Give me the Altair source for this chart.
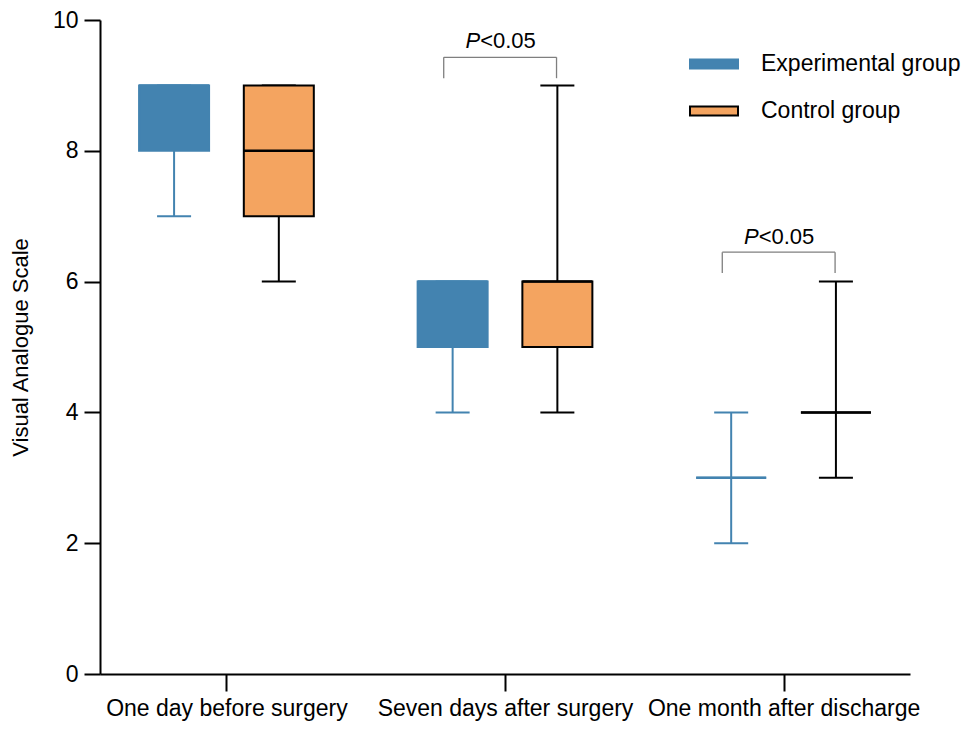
import json
import altair as alt
import pandas as pd

categories = ["One day before surgery", "Seven days after surgery", "One month after discharge"]
groups = ["Experimental group", "Control group"]

exp_min = [7, 4, 2]
exp_q1 = [8, 5, 3]
exp_median = [9, 6, 3]
exp_q3 = [9, 6, 3]
exp_max = [9, 6, 4]

ctrl_min = [6, 4, 3]
ctrl_q1 = [7, 5, 4]
ctrl_median = [8, 6, 4]
ctrl_q3 = [9, 6, 4]
ctrl_max = [9, 9, 6]

sig_idx = [1, 2]
sig_p = ["P", "P"]
sig_rest = ["<0.05", "<0.05"]
sig_top = [9.43, 6.45]
sig_leg = [9.11, 6.13]
sig_text = [9.57, 6.57]

BLUE = "#4383B0"
ORANGE = "#F4A460"
FONT = "Liberation Sans"

rows = []
for i, c in enumerate(categories):
    rows.append(dict(cat=c, idx=i, group=groups[0], lo=exp_min[i], q1=exp_q1[i],
                     med=exp_median[i], q3=exp_q3[i], hi=exp_max[i]))
    rows.append(dict(cat=c, idx=i, group=groups[1], lo=ctrl_min[i], q1=ctrl_q1[i],
                     med=ctrl_median[i], q3=ctrl_q3[i], hi=ctrl_max[i]))
df = pd.DataFrame(rows)

sig = pd.DataFrame(dict(idx=sig_idx, p=sig_p, rest=sig_rest, top=sig_top,
                        leg=sig_leg, ty=sig_text))

label_expr = json.dumps(categories) + "[datum.value]"
x_scale = alt.Scale(domain=[-0.436, 2.436], nice=False, zero=False)
y_scale = alt.Scale(domain=[0, 10], nice=False)

X = alt.X("pos:Q", scale=x_scale, title=None,
          axis=alt.Axis(values=[0, 1, 2], labelExpr=label_expr, tickSize=17,
                        labelPadding=6, labelFontSize=23, labelOverlap=False,
                        labelBound=False, labelFlush=False, labelLimit=0, grid=False))
Y_axis = alt.Axis(values=[0, 2, 4, 6, 8, 10], format="d", tickSize=16, labelPadding=6,
                  labelFontSize=23, title="Visual Analogue Scale", titleFontSize=22,
                  titleFontWeight="normal", titleX=-80, titleY=327,
                  titleBaseline="middle", titleAlign="center", titleAngle=270,
                  titleLimit=0, grid=False)

leg = alt.Legend(title=None, orient="none", legendX=589, legendY=19,
                 symbolType="M-1,-0.19H1V0.19H-1Z", symbolSize=2304,
                 symbolStrokeWidth=2, labelFontSize=23, labelFont=FONT,
                 labelColor="black", labelOffset=22, rowPadding=10, padding=0,
                 labelLimit=0)
fill_enc = alt.Fill("group:N", scale=alt.Scale(domain=groups, range=[BLUE, ORANGE]), legend=leg)
stroke_enc = alt.Stroke("group:N", scale=alt.Scale(domain=groups, range=[BLUE, "black"]), legend=leg)

base = alt.Chart(df).transform_calculate(
    pos="datum.idx + (datum.group == 'Experimental group' ? -0.188 : 0.188)"
)

whisk_lo = base.mark_rule(strokeWidth=2).encode(
    x=X, y=alt.Y("lo:Q", scale=y_scale, axis=Y_axis), y2="q1:Q", stroke=stroke_enc)
whisk_hi = base.mark_rule(strokeWidth=2).encode(
    x=X, y=alt.Y("q3:Q", scale=y_scale, axis=Y_axis), y2="hi:Q", stroke=stroke_enc)
cap_lo = base.mark_rule(strokeWidth=2, xOffset=-17, x2Offset=17).encode(
    x=X, x2="pos:Q", y=alt.Y("lo:Q", scale=y_scale, axis=Y_axis), stroke=stroke_enc)
cap_hi = base.mark_rule(strokeWidth=2, xOffset=-17, x2Offset=17).encode(
    x=X, x2="pos:Q", y=alt.Y("hi:Q", scale=y_scale, axis=Y_axis), stroke=stroke_enc)
boxes = base.mark_bar(size=70, strokeWidth=2).encode(
    x=X, y=alt.Y("q1:Q", scale=y_scale, axis=Y_axis), y2="q3:Q",
    fill=fill_enc, stroke=stroke_enc)
medians = base.mark_rule(strokeWidth=2.5, xOffset=-35, x2Offset=35).encode(
    x=X, x2="pos:Q", y=alt.Y("med:Q", scale=y_scale, axis=Y_axis), stroke=stroke_enc)

sbase = alt.Chart(sig).transform_calculate(
    left="datum.idx - 0.22", right="datum.idx + 0.185", mid="datum.idx - 0.0175")
br_top = sbase.mark_rule(color="#7f7f7f", strokeWidth=1.3).encode(
    x=alt.X("left:Q", scale=x_scale), x2="right:Q", y=alt.Y("top:Q", scale=y_scale))
br_l = sbase.mark_rule(color="#7f7f7f", strokeWidth=1.3).encode(
    x=alt.X("left:Q", scale=x_scale), y=alt.Y("leg:Q", scale=y_scale), y2="top:Q")
br_r = sbase.mark_rule(color="#7f7f7f", strokeWidth=1.3).encode(
    x=alt.X("right:Q", scale=x_scale), y=alt.Y("leg:Q", scale=y_scale), y2="top:Q")
txt_p = sbase.mark_text(align="right", baseline="alphabetic", font=FONT, fontSize=22,
                        fontStyle="italic", color="black", dx=-20).encode(
    x=alt.X("mid:Q", scale=x_scale), y=alt.Y("ty:Q", scale=y_scale), text="p:N")
txt_r = sbase.mark_text(align="left", baseline="alphabetic", font=FONT, fontSize=22,
                        color="black", dx=-20).encode(
    x=alt.X("mid:Q", scale=x_scale), y=alt.Y("ty:Q", scale=y_scale), text="rest:N")

chart = alt.layer(
    whisk_lo, whisk_hi, cap_lo, cap_hi, boxes, medians,
    br_top, br_l, br_r, txt_p, txt_r
).properties(
    width=810, height=654,
    autosize=alt.AutoSizeParams(type="none"),
    padding={"left": 92, "top": 12, "right": 52, "bottom": 52},
).configure_axis(
    domainColor="black", domainWidth=2, tickColor="black", tickWidth=2,
    labelFont=FONT, titleFont=FONT, labelColor="black", titleColor="black",
).configure_view(strokeWidth=0)

chart.save("out.html", embed_options={"renderer": "svg", "actions": False})
